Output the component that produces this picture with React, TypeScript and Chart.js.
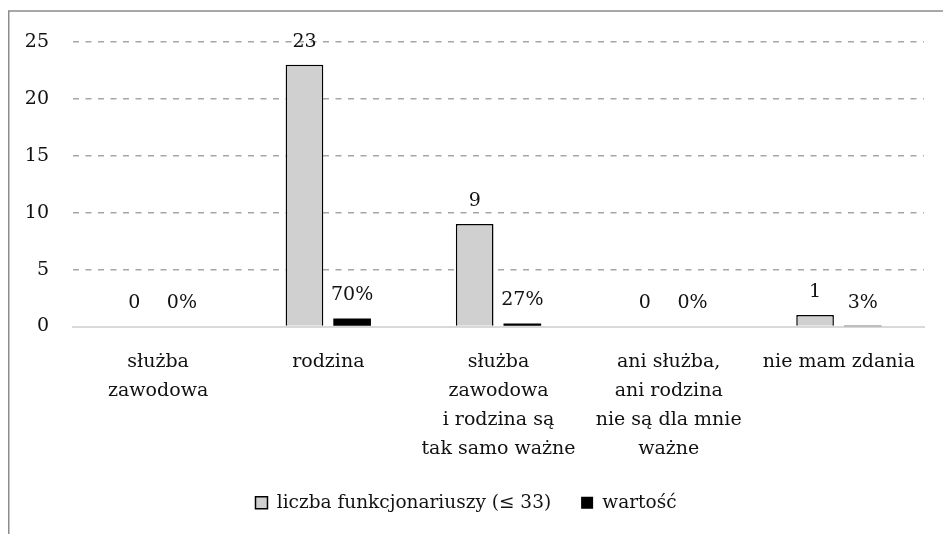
import React, { useEffect, useRef } from 'react';
import { Chart, registerables } from 'chart.js';

Chart.register(...registerables);

const categories: (string | string[])[] = [
  ['służba', 'zawodowa'],
  'rodzina',
  ['służba', 'zawodowa', 'i rodzina są', 'tak samo ważne'],
  ['ani służba,', 'ani rodzina', 'nie są dla mnie', 'ważne'],
  'nie mam zdania',
];
const countSeriesName = 'liczba funkcjonariuszy (≤ 33)';
const shareSeriesName = 'wartość';
const counts = [0, 23, 9, 0, 1];
const shares = [0, 0.7, 0.27, 0, 0.03];
const yMin = 0;
const yMax = 25;
const yStep = 5;

const FONT = '"DejaVu Serif", serif';
const TEXT = '#111111';

const framePlugin = {
  id: 'frame',
  beforeDraw(chart: any) {
    const ctx = chart.ctx;
    ctx.save();
    ctx.strokeStyle = '#8c8c8c';
    ctx.lineWidth = 1.5;
    ctx.beginPath();
    ctx.moveTo(8.75, chart.height);
    ctx.lineTo(8.75, 11);
    ctx.lineTo(chart.width, 11);
    ctx.stroke();
    ctx.restore();
  },
};

const valueLabelPlugin = {
  id: 'valueLabels',
  afterDatasetsDraw(chart: any) {
    const ctx = chart.ctx;
    ctx.save();
    ctx.font = `19px ${FONT}`;
    ctx.fillStyle = TEXT;
    ctx.textAlign = 'center';
    ctx.textBaseline = 'middle';
    chart.data.datasets.forEach((ds: any, i: number) => {
      const meta = chart.getDatasetMeta(i);
      meta.data.forEach((bar: any, j: number) => {
        const v = ds.data[j];
        const txt = i === 0 ? String(v) : `${Math.round(v * 100)}%`;
        ctx.fillText(txt, bar.x, bar.y - 23);
      });
    });
    ctx.restore();
  },
};

export default function App() {
  const ref = useRef<HTMLCanvasElement | null>(null);

  useEffect(() => {
    if (!ref.current) return;
    const chart = new Chart(ref.current, {
      type: 'bar',
      data: {
        labels: categories as any,
        datasets: [
          {
            label: countSeriesName,
            data: counts,
            backgroundColor: '#d0d0d0',
            borderColor: '#000000',
            borderWidth: 1.5,
            categoryPercentage: 0.56,
            barPercentage: 0.79,
          },
          {
            label: shareSeriesName,
            data: shares,
            backgroundColor: '#000000',
            borderColor: '#000000',
            borderWidth: 0,
            categoryPercentage: 0.56,
            barPercentage: 0.79,
          },
        ],
      },
      options: {
        responsive: false,
        animation: false,
        layout: { padding: { left: 8, right: 19, top: 42, bottom: 12 } },
        plugins: {
          legend: {
            position: 'bottom',
            labels: {
              boxWidth: 12,
              boxHeight: 12,
              padding: 30,
              color: TEXT,
              font: { family: FONT, size: 18.5 },
            },
          },
          tooltip: { enabled: false },
        },
        scales: {
          x: {
            grid: { display: false, drawTicks: false },
            border: { display: true, color: '#d9d9d9', width: 2 },
            ticks: {
              color: TEXT,
              font: { family: FONT, size: 19, lineHeight: '29px' as any },
              padding: 21.5,
              maxRotation: 0,
              autoSkip: false,
            },
            afterFit(scale: any) {
              scale.height = 137;
            },
          },
          y: {
            min: yMin,
            max: yMax,
            ticks: {
              stepSize: yStep,
              color: TEXT,
              font: { family: FONT, size: 19 },
              padding: 24,
            },
            grid: {
              drawTicks: false,
              lineWidth: 1.5,
              color: (c: any) => (c.tick && c.tick.value === 0 ? 'rgba(0,0,0,0)' : '#a6a6a6'),
            },
            border: { display: false, dash: [6, 6.5] },
            afterFit(scale: any) {
              scale.width = 65;
            },
          },
        },
      },
      plugins: [framePlugin, valueLabelPlugin],
    });
    return () => chart.destroy();
  }, []);

  return (
    <div style={{ position: 'absolute', left: 0, top: 0, width: 943, height: 534 }}>
      <canvas ref={ref} width={943} height={534} style={{ display: 'block' }} />
    </div>
  );
}
